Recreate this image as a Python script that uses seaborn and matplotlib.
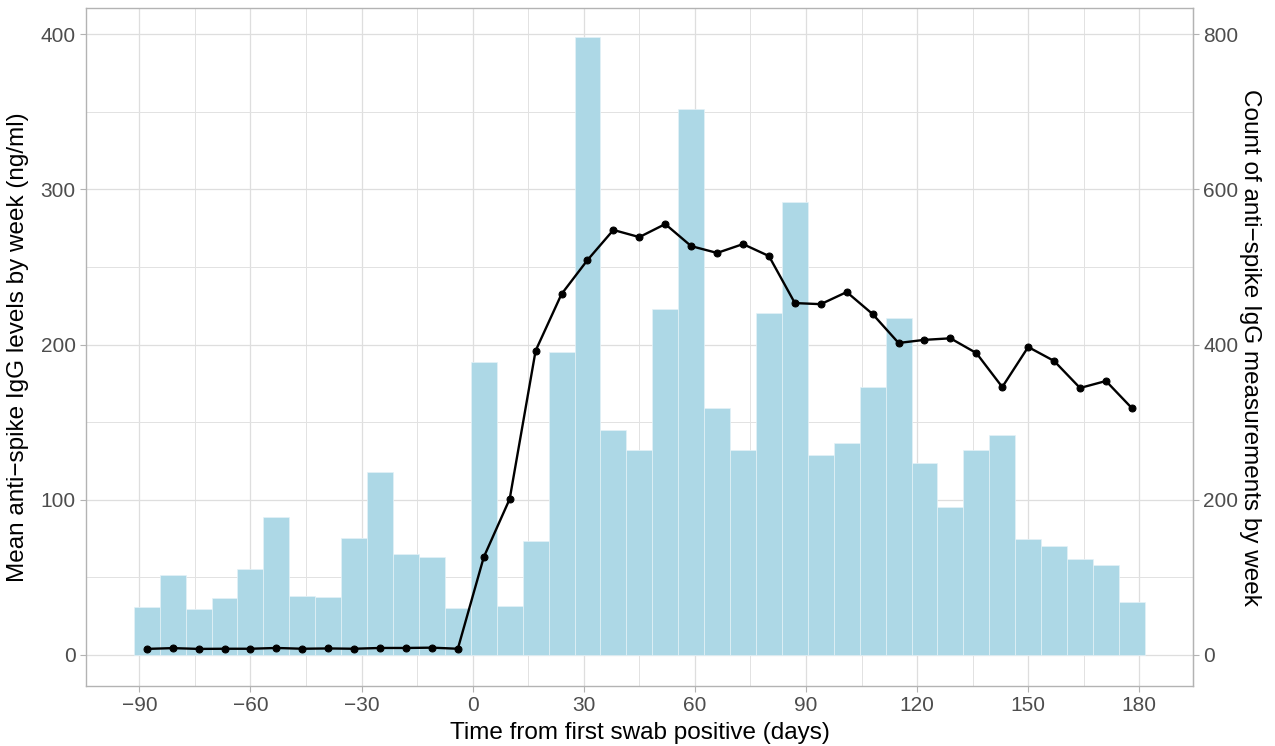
import numpy as np
import pandas as pd
import seaborn as sns
import matplotlib.pyplot as plt
from matplotlib.ticker import MultipleLocator

# week centres (days from first swab positive)
week_day = [-88, -81, -74, -67, -60, -53, -46, -39, -32, -25, -18, -11, -4,
            3, 10, 17, 24, 31, 38, 45, 52, 59, 66, 73, 80, 87, 94, 101, 108,
            115, 122, 129, 136, 143, 150, 157, 164, 171, 178]

# count of measurements per week (right axis)
week_count = [62, 103, 59, 73, 111, 178, 76, 75, 151, 236, 130, 126, 61,
              377, 63, 147, 390, 796, 290, 264, 446, 703, 318, 264, 441, 584,
              258, 273, 345, 434, 247, 191, 264, 283, 149, 140, 124, 116, 68]

# mean anti-spike IgG per week (left axis)
mean_igg = [3.9, 4.4, 3.9, 4.0, 4.0, 4.5, 4.0, 4.2, 4.0, 4.5, 4.5, 4.7, 4.0,
            63, 100.5, 196, 232.5, 254.4, 273.8, 269.2, 277.6, 263.4, 259,
            264.7, 257, 226.7, 226, 233.8, 219.6, 201, 203, 204, 194.5,
            172.6, 198.4, 189.4, 172, 176.5, 159]

df = pd.DataFrame({'day': week_day, 'count': week_count, 'igg': mean_igg})
df['count_scaled'] = df['count'] / 2  # secondary axis is 2x primary

sns.set_style("whitegrid")
plt.rcParams['font.family'] = ['Liberation Sans', 'DejaVu Sans']

fig = plt.figure(figsize=(12.75, 7.46), dpi=100)
ax = fig.add_axes([86 / 1275, 1 - 686 / 746, (1193 - 86) / 1275, (686 - 8) / 746])

sns.histplot(data=df, x='day', weights='count_scaled',
             binwidth=7, binrange=(-91.5, 181.5), color='#ADD8E6', alpha=1,
             edgecolor='#E4F2F7', linewidth=0.5, ax=ax, zorder=2)
sns.lineplot(data=df, x='day', y='igg', color='black', linewidth=1.7,
             marker='o', markersize=5, markeredgecolor='black', ax=ax, zorder=3)

ax.set_xlim(-104.4, 194.5)
ax.set_ylim(-20, 416.8)
ax.xaxis.set_major_locator(MultipleLocator(30))
ax.xaxis.set_minor_locator(MultipleLocator(15))
ax.yaxis.set_major_locator(MultipleLocator(100))
ax.yaxis.set_minor_locator(MultipleLocator(50))
ax.grid(which='major', color='#DEDEDE', linewidth=0.9, zorder=0)
ax.grid(which='minor', color='#E2E2E2', linewidth=0.7, zorder=0)
ax.set_axisbelow(True)

for s in ax.spines.values():
    s.set_color('#B3B3B3')
    s.set_linewidth(1.0)
ax.tick_params(which='major', length=4, width=0.8, color='#B3B3B3',
               labelcolor='#4D4D4D', labelsize=15, left=True, bottom=True)
ax.tick_params(which='minor', length=0)

ax.set_xlabel('Time from first swab positive (days)', fontsize=17.5,
              color='black', labelpad=5)
ax.set_ylabel('Mean anti\u2212spike IgG levels by week (ng/ml)', fontsize=17.5,
              color='black', labelpad=8)

sec = ax.secondary_yaxis('right', functions=(lambda y: y * 2, lambda y: y / 2))
sec.set_yticks([0, 200, 400, 600, 800])
sec.spines['right'].set_color('#B3B3B3')
sec.tick_params(length=4, width=0.8, color='#B3B3B3', labelcolor='#4D4D4D',
                labelsize=15)
sec.set_ylabel('Count of anti\u2212spike IgG measurements by week', fontsize=17.5,
               color='black', rotation=-90, labelpad=16)

fig.savefig('out.png', dpi=100)
